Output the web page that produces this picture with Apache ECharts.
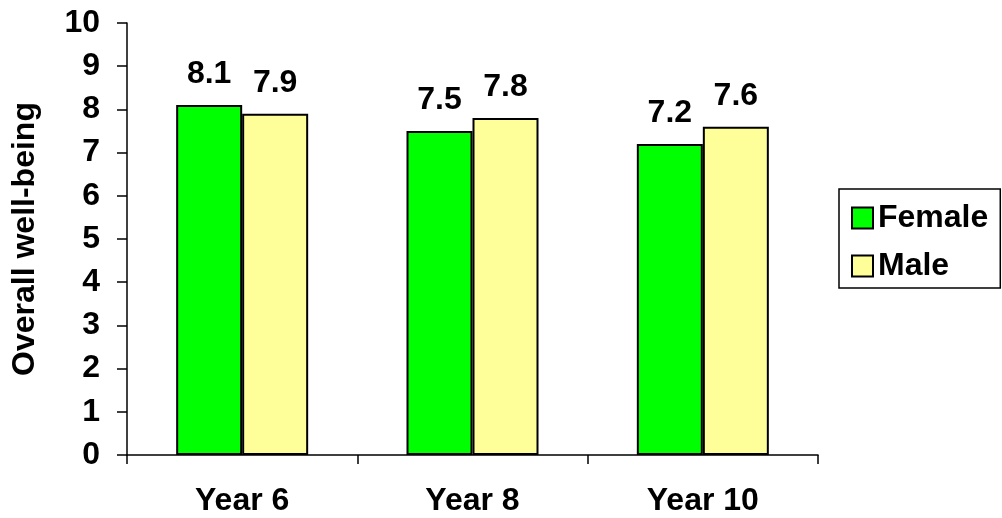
<!DOCTYPE html>
<html>
<head>
<meta charset="utf-8">
<script src="https://cdn.jsdelivr.net/npm/echarts@6/dist/echarts.min.js"></script>
<style>html,body{margin:0;padding:0;background:#fff}#c{width:1002px;height:518px}</style>
</head>
<body>
<div id="c"></div>
<script>
const categories = ['Year 6', 'Year 8', 'Year 10'];
const female = [8.1, 7.5, 7.2];
const male = [7.9, 7.8, 7.6];
const seriesNames = ['Female', 'Male'];
const yTicks = [0, 1, 2, 3, 4, 5, 6, 7, 8, 9, 10];

const FONT = '"Liberation Sans", Arial, sans-serif';
const FS = 32;
const chart = echarts.init(document.getElementById('c'));
const labelStyle = {
  show: true, position: 'top', distance: 15,
  color: '#000', fontFamily: FONT, fontWeight: 'bold', fontSize: FS
};
chart.setOption({
  animation: false,
  backgroundColor: '#fff',
  grid: { left: 127, right: 184, top: 23, bottom: 63, containLabel: false, outerBoundsMode: 'none' },
  legend: {
    orient: 'vertical', left: 839, top: 189,
    padding: [13, 12, 6, 12],
    borderColor: '#000', borderWidth: 1.5,
    itemWidth: 21, itemHeight: 21, itemGap: 16,
    icon: 'rect',
    itemStyle: { borderColor: '#000', borderWidth: 2 },
    textStyle: { fontFamily: FONT, fontWeight: 'bold', fontSize: FS, color: '#000', lineHeight: 32 },
    data: seriesNames
  },
  xAxis: {
    type: 'category', data: categories,
    axisLine: { lineStyle: { color: '#000', width: 1.5 } },
    axisTick: { show: true, length: 9, alignWithLabel: false, lineStyle: { color: '#000', width: 1.5 } },
    axisLabel: { margin: 30, color: '#000', fontFamily: FONT, fontWeight: 'bold', fontSize: FS }
  },
  yAxis: {
    type: 'value', min: 0, max: 10, interval: 1,
    name: 'Overall well-being', nameLocation: 'middle', nameRotate: 90, nameGap: 86,
    nameTextStyle: { color: '#000', fontFamily: FONT, fontWeight: 'bold', fontSize: FS },
    splitLine: { show: false },
    axisLine: { show: true, lineStyle: { color: '#000', width: 1.5 } },
    axisTick: { show: true, length: 10, lineStyle: { color: '#000', width: 1.5 } },
    axisLabel: {
      margin: 27, color: '#000', fontFamily: FONT, fontWeight: 'bold', fontSize: FS,
      formatter: v => yTicks.includes(v) ? String(v) : ''
    }
  },
  series: [
    {
      name: seriesNames[0], type: 'bar', data: female, barWidth: 66, barGap: '0%',
      itemStyle: { color: '#00FF00', borderColor: '#000', borderWidth: 2 },
      label: labelStyle
    },
    {
      name: seriesNames[1], type: 'bar', data: male, barWidth: 66, barGap: '0%',
      itemStyle: { color: '#FFFF99', borderColor: '#000', borderWidth: 2 },
      label: labelStyle
    }
  ]
});
</script>
</body>
</html>
